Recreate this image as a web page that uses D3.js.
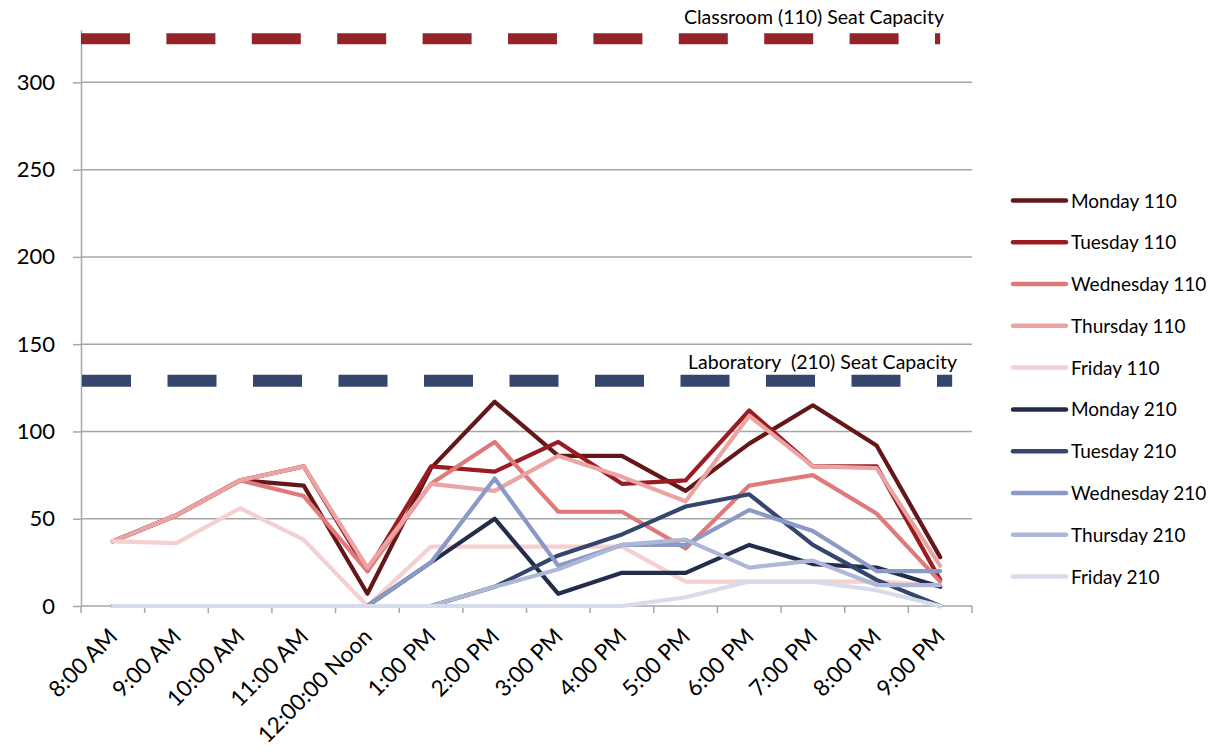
<!DOCTYPE html>
<html>
<head>
<meta charset="utf-8">
<script src="https://cdn.jsdelivr.net/npm/d3@7"></script>
<style>
  html, body { margin: 0; padding: 0; background: #fff; }
  svg { display: block; }
  text { font-family: Lato, "Open Sans", sans-serif; fill: #000; }
</style>
</head>
<body>
<svg id="chart" width="1224" height="754"></svg>
<script>
const categories = ["8:00 AM","9:00 AM","10:00 AM","11:00 AM","12:00:00 Noon","1:00 PM","2:00 PM","3:00 PM","4:00 PM","5:00 PM","6:00 PM","7:00 PM","8:00 PM","9:00 PM"];

const monday110    = [37, 52, 72, 69, 7, 79, 117, 86, 86, 66, 93, 115, 92, 28];
const tuesday110   = [37, 52, 72, 80, 20, 80, 77, 94, 70, 72, 112, 80, 80, 15];
const wednesday110 = [37, 52, 72, 63, 20, 70, 94, 54, 54, 33, 69, 75, 53, 14];
const thursday110  = [37, 52, 72, 80, 22, 70, 66, 86, 74, 60, 109, 80, 79, 23];
const friday110    = [37, 36, 56, 38, 0, 34, 34, 34, 34, 14, 14, 14, 14, 12];
const monday210    = [0, 0, 0, 0, 0, 25, 50, 7, 19, 19, 35, 24, 22, 11];
const tuesday210   = [0, 0, 0, 0, 0, 0, 11, 29, 41, 57, 64, 35, 15, 0];
const wednesday210 = [0, 0, 0, 0, 0, 25, 73, 23, 35, 35, 55, 43, 20, 20];
const thursday210  = [0, 0, 0, 0, 0, 0, 11, 21, 35, 38, 22, 26, 12, 12];
const friday210    = [0, 0, 0, 0, 0, 0, 0, 0, 0, 5, 14, 14, 9, 0];

const seriesNames = ["Monday 110","Tuesday 110","Wednesday 110","Thursday 110","Friday 110",
                     "Monday 210","Tuesday 210","Wednesday 210","Thursday 210","Friday 210"];
const seriesValues = [monday110, tuesday110, wednesday110, thursday110, friday110,
                      monday210, tuesday210, wednesday210, thursday210, friday210];
const seriesColors = ["#641719","#9a1c20","#e07a7a","#eba4a4","#f5d0d0",
                      "#232d4b","#34466e","#8a99c6","#adb7d7","#d6dcea"];

const classroomCapacity = 325;
const laboratoryCapacity = 129;
const capacityLabels = ["Classroom (110) Seat Capacity", "Laboratory  (210) Seat Capacity"];
const yTicks = [0, 50, 100, 150, 200, 250, 300];
const yMax = 330;

const svg = d3.select("#chart");
const pLeft = 81, pRight = 972, pTop = 30, pBottom = 606;

const x = d3.scalePoint().domain(categories).range([pLeft, pRight]).padding(0.5);
const xb = d3.scaleBand().domain(categories).range([pLeft, pRight]);
const y = d3.scaleLinear().domain([0, yMax]).range([pBottom, pTop]);

// gridlines
svg.append("g").selectAll("line").data(yTicks.filter(d => d > 0)).join("line")
  .attr("x1", pLeft).attr("x2", pRight)
  .attr("y1", d => y(d)).attr("y2", d => y(d))
  .attr("stroke", "#a6a6a6").attr("stroke-width", 1.5);

// y axis
const yAxis = svg.append("g").attr("transform", `translate(${pLeft},0)`)
  .call(d3.axisLeft(y).tickValues(yTicks).tickSize(8).tickPadding(18).tickSizeOuter(0));
yAxis.select(".domain").attr("stroke", "#a6a6a6").attr("stroke-width", 1.5);
yAxis.selectAll(".tick line").attr("stroke", "#a6a6a6").attr("stroke-width", 1.5);
yAxis.selectAll(".tick text").style("font-size", "22px").style("font-family", "Lato").attr("fill", "#000");

// x axis line + boundary ticks
const xg = svg.append("g");
xg.append("line").attr("x1", pLeft).attr("x2", pRight).attr("y1", pBottom).attr("y2", pBottom)
  .attr("stroke", "#a6a6a6").attr("stroke-width", 1.5);
const boundaries = categories.map(c => xb(c)).concat([xb.range()[1]]);
xg.selectAll("line.tk").data(boundaries).join("line").attr("class", "tk")
  .attr("x1", d => d).attr("x2", d => d).attr("y1", pBottom).attr("y2", pBottom + 7)
  .attr("stroke", "#a6a6a6").attr("stroke-width", 1.5);
xg.selectAll("text").data(categories).join("text")
  .attr("transform", d => `translate(${x(d) + 6},${pBottom + 32}) rotate(-45)`)
  .attr("text-anchor", "end")
  .style("font-size", "22.5px")
  .text(d => d);

// capacity lines
const lastX = x(categories[categories.length - 1]);
svg.append("line")
  .attr("x1", pLeft).attr("x2", lastX)
  .attr("y1", y(classroomCapacity)).attr("y2", y(classroomCapacity))
  .attr("stroke", "#95232a").attr("stroke-width", 11)
  .attr("stroke-dasharray", "49,36.4");
svg.append("line")
  .attr("x1", pLeft + 1).attr("x2", lastX + 12)
  .attr("y1", y(laboratoryCapacity)).attr("y2", y(laboratoryCapacity))
  .attr("stroke", "#34466e").attr("stroke-width", 12)
  .attr("stroke-dasharray", "49,36.5");

svg.append("text").attr("x", 944).attr("y", y(classroomCapacity) - 15)
  .attr("text-anchor", "end").style("font-size", "19.5px").text(capacityLabels[0]);
svg.append("text").attr("x", 957).attr("y", y(laboratoryCapacity) - 12)
  .attr("text-anchor", "end").style("font-size", "19.5px").style("white-space", "pre")
  .text(capacityLabels[1]);

// series
const line = d3.line().x((d, i) => x(categories[i])).y(d => y(d));
svg.append("g").selectAll("path").data(seriesValues).join("path")
  .attr("d", d => line(d))
  .attr("fill", "none")
  .attr("stroke", (d, i) => seriesColors[i])
  .attr("stroke-width", 4.2)
  .attr("stroke-linejoin", "round")
  .attr("stroke-linecap", "round");

// legend
const lg = svg.append("g");
const ly = d3.scalePoint().domain(seriesNames).range([200.5, 576.5]);
lg.selectAll("line").data(seriesNames).join("line")
  .attr("x1", 1013).attr("x2", 1066)
  .attr("y1", d => ly(d)).attr("y2", d => ly(d))
  .attr("stroke", (d, i) => seriesColors[i]).attr("stroke-width", 4.5)
  .attr("stroke-linecap", "round");
lg.selectAll("text").data(seriesNames).join("text")
  .attr("x", 1071).attr("y", d => ly(d) + 7)
  .style("font-size", "19px")
  .text(d => d);
</script>
</body>
</html>
